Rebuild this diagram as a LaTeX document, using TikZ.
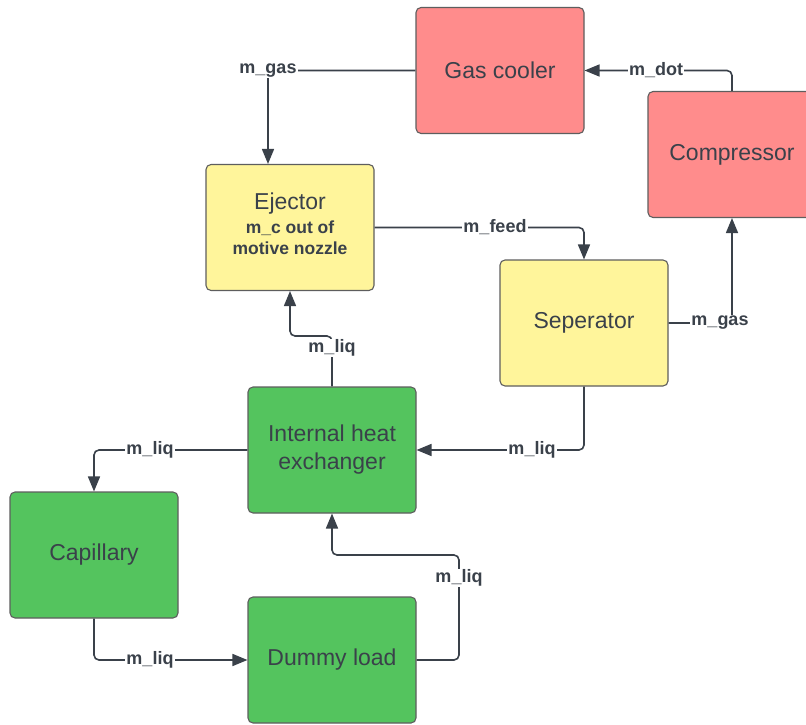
\documentclass[tikz,border=0pt]{standalone}
\usepackage{fontspec}
\setmainfont{Liberation Sans}
\usetikzlibrary{arrows.meta}
\definecolor{txt}{HTML}{3A414A}
\definecolor{edge}{HTML}{5E5E5E}
\definecolor{redbox}{HTML}{FF8C8C}
\definecolor{yelbox}{HTML}{FFF59B}
\definecolor{grnbox}{HTML}{54C45E}
\tikzset{
  box/.style={draw=edge, line width=1.1pt, rounded corners=5pt, minimum width=168pt, minimum height=126pt, inner sep=0pt, align=center, text=txt, font=\fontsize{23}{28}\selectfont},
  redb/.style={box, fill=redbox},
  yelb/.style={box, fill=yelbox},
  grnb/.style={box, fill=grnbox},
  conn/.style={draw=txt, line width=1.6pt, rounded corners=5pt, -{Triangle[length=15pt,width=12pt]}},
  lbl/.style={fill=white, inner sep=1pt, text=txt, font=\bfseries\fontsize{18}{20}\selectfont}
}
\begin{document}
\begin{tikzpicture}[x=1pt, y=-1pt]
\useasboundingbox (0,0) rectangle (806,725);
\clip (0,0) rectangle (806,725);
\fill[white] (0,0) rectangle (806,725);

\node[redb] (gc) at (500,70.5) {Gas cooler};
\node[redb] (comp) at (732,154.5) {Compressor};
\node[yelb] (ej) at (290,227.5) {};
\node[align=center, inner sep=0pt, text=txt, font=\bfseries\fontsize{17.5}{21}\selectfont] (ejt) at (290,224) {\mdseries\fontsize{23}{28}\selectfont Ejector\\[3pt]m\_c out of\\motive nozzle};
\node[yelb] (sep) at (584,323) {Seperator};
\node[grnb] (ihx) at (332,450) {Internal heat\\exchanger};
\node[grnb] (cap) at (94,555) {Capillary};
\node[grnb] (dl) at (332,660) {Dummy load};

\coordinate (ejup) at (332,336);
\coordinate (dlc) at (459,555);

\draw[conn] (gc.west) -| ([xshift=-22pt]ej.north);
\draw[conn] (comp.north) |- (gc.east);
\draw[conn] (ej.east) -| (sep.north);
\draw[conn] (sep.east) -| (comp.south);
\draw[conn] (sep.south) |- (ihx.east);
\draw[conn] (ihx.north) -- (ejup) -| (ej.south);
\draw[conn] (ihx.west) -| (cap.north);
\draw[conn] (cap.south) |- (dl.west);
\draw[conn] (dl.east) -| (dlc) -| (ihx.south);

\node[lbl] (l1) at (268,70.5) {m\_gas};
\node[lbl] (l2) at (656,70.5) {m\_dot};
\node[lbl] (l3) at (495,227.5) {m\_feed};
\node[lbl] (l4) at (720,323) {m\_gas};
\node[lbl] (l5) at (532,450) {m\_liq};
\node[lbl] (l6) at (332,348) {m\_liq};
\node[lbl] (l7) at (150,450) {m\_liq};
\node[lbl] (l8) at (150,660) {m\_liq};
\node[lbl] (l9) at (459,578) {m\_liq};
\end{tikzpicture}
\end{document}
